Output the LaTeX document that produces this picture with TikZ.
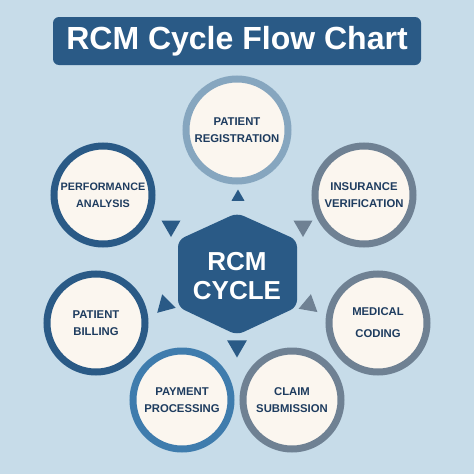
\documentclass[tikz,border=0pt]{standalone}
\usepackage{fontspec}
\setmainfont{Liberation Sans}
\usetikzlibrary{shapes.geometric}

\definecolor{bgblue}{HTML}{C7DCE9}
\definecolor{navy}{HTML}{1E3C5F}
\definecolor{deepblue}{HTML}{2A5A86}
\definecolor{midblue}{HTML}{3F7CAD}
\definecolor{paleblue}{HTML}{86A6BF}
\definecolor{slate}{HTML}{6F8193}
\definecolor{cream}{HTML}{FBF6EF}

\begin{document}
\begin{tikzpicture}
        [x=1pt, y=-1pt,
        stage/.style={circle, draw, line width=7pt, fill=cream, minimum size=98pt, inner sep=0pt,
          align=center, text=navy, font=\bfseries\fontsize{11.3}{17}\selectfont},
        hub/.style={align=center, text=white, font=\bfseries\fontsize{26}{29}\selectfont},
        tip/.style={regular polygon, regular polygon sides=3, inner sep=0pt, minimum size=22pt}]

        % background and margins
        \fill[bgblue] (0,0) rectangle (474,474);
        \useasboundingbox (0,0) rectangle (474,474);

        % title banner
        \node[fill=deepblue, rounded corners=6pt, minimum width=368pt, minimum height=48pt,
          text=white, font=\bfseries\fontsize{32}{36}\selectfont] (title) at (237,41) {RCM Cycle Flow Chart};

        % central hexagon
        \fill[deepblue, rounded corners=7pt] (237,213) -- (297,240) -- (297,307) -- (237,335)
          -- (178,307) -- (178,240) -- cycle;
        \node[hub] (rcm) at (237,276) {RCM\\CYCLE};

        % stages of the cycle
        \node[stage, draw=paleblue, minimum size=102pt] (reg) at (237,130) {PATIENT\\REGISTRATION};
        \node[stage, draw=slate] (ins) at (364,195) {INSURANCE\\VERIFICATION};
        \node[stage, draw=slate, font=\bfseries\fontsize{11.3}{22}\selectfont] (cod) at (378,323) {MEDICAL\\CODING};
        \node[stage, draw=slate] (clm) at (292,400) {CLAIM\\SUBMISSION};
        \node[stage, draw=midblue] (pay) at (182,400) {PAYMENT\\PROCESSING};
        \node[stage, draw=deepblue] (bil) at (96,323) {PATIENT\\BILLING};
        \node[stage, draw=deepblue, font=\bfseries\fontsize{10.8}{17}\selectfont] (per) at (103,195) {PERFORMANCE\\ANALYSIS};

        % arrow heads round the hexagon
        \node[tip, fill=deepblue, minimum size=15pt] (t1) at (238,197) {};
        \node[tip, fill=deepblue, rotate=180] (t2) at (171,226) {};
        \node[tip, fill=slate, rotate=180] (t3) at (303,226) {};
        \node[tip, fill=deepblue, rotate=15] (t4) at (165,305) {};
        \node[tip, fill=slate, rotate=-10] (t5) at (309,305) {};
        \node[tip, fill=deepblue, rotate=180, minimum size=23pt] (t6) at (237,346) {};

\end{tikzpicture}
\end{document}
